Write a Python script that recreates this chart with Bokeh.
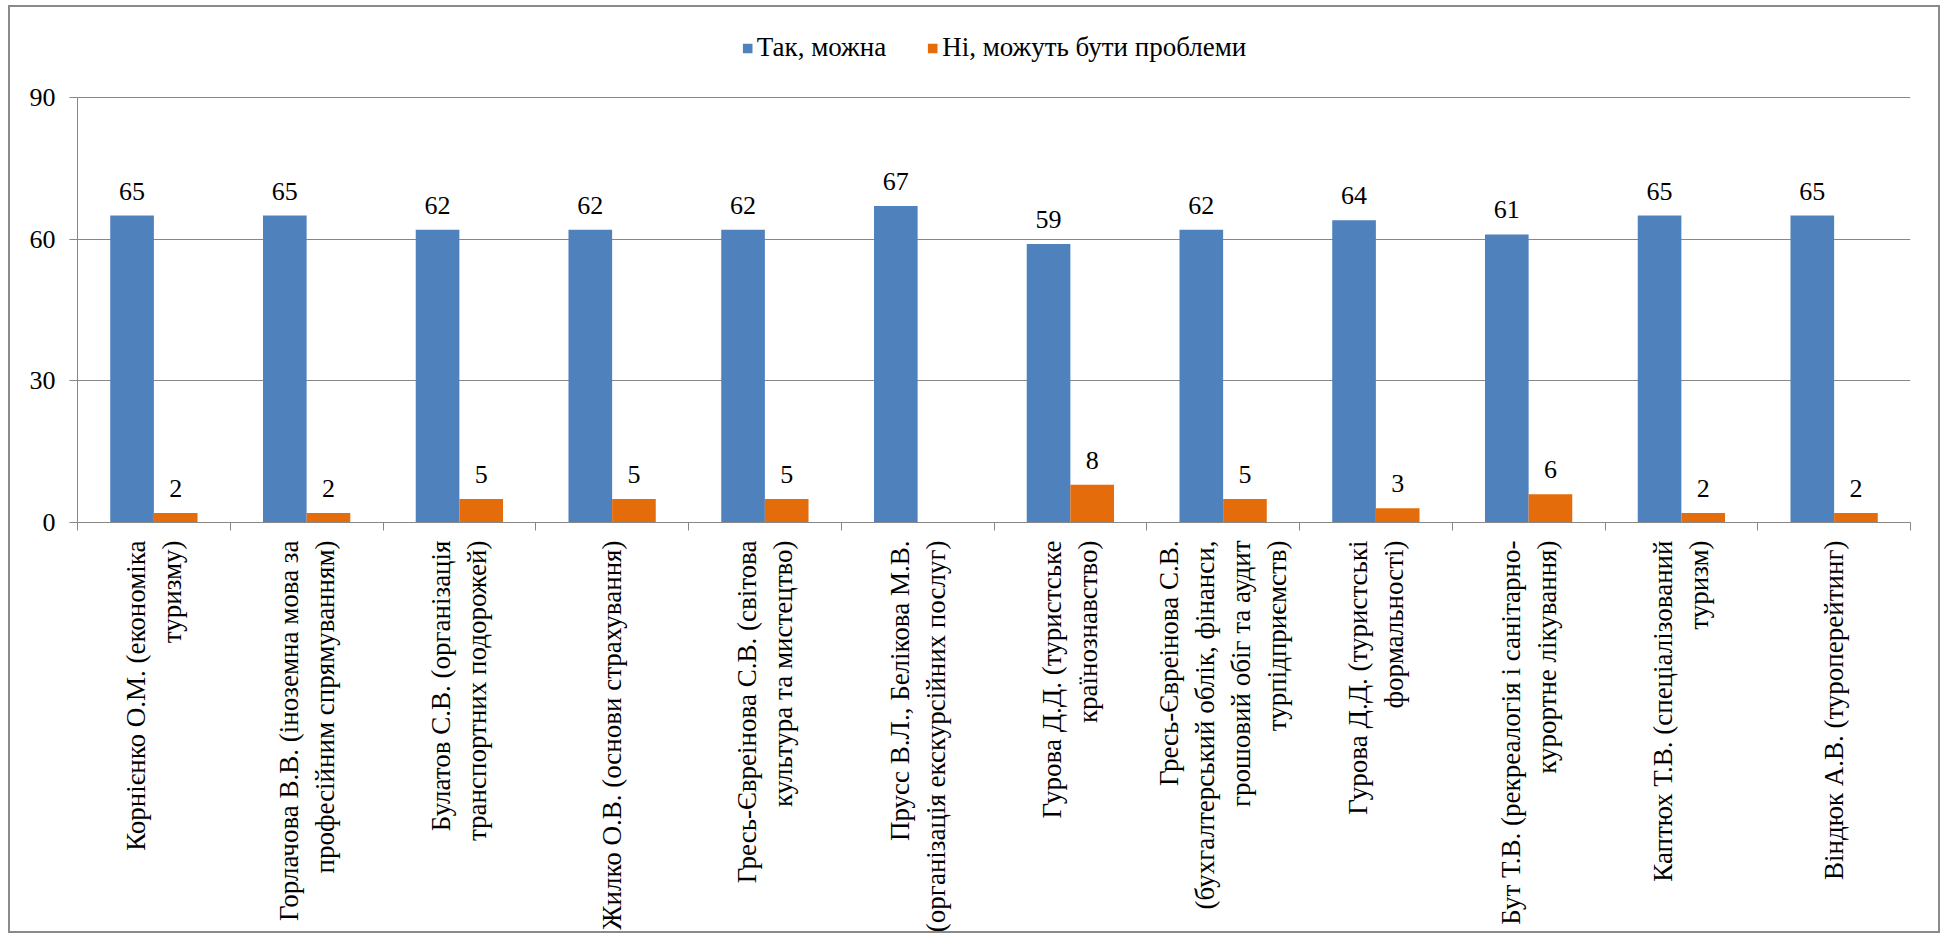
import math
from bokeh.plotting import figure
from bokeh.models import (ColumnDataSource, Range1d, LinearAxis,
                          FixedTicker, LabelSet, Legend, LegendItem)
from bokeh.transform import dodge
from bokeh.embed import file_html
from bokeh.resources import INLINE

categories = [
    "Корнієнко О.М. (економіка\nтуризму)",
    "Горлачова В.В. (іноземна мова за\nпрофесійним спрямуванням)",
    "Булатов С.В. (організація\nтранспортних подорожей)",
    "Жилко О.В. (основи страхування)",
    "Гресь-Євреінова С.В. (світова\nкультура та мистецтво)",
    "Прусс В.Л., Белікова М.В.\n(організація екскурсійних послуг)",
    "Гурова Д.Д. (туристське\nкраїнознавство)",
    "Гресь-Євреінова С.В.\n(бухгалтерський облік, фінанси,\nгрошовий обіг та аудит\nтурпідприємств)",
    "Гурова Д.Д. (туристські\nформальності)",
    "Бут Т.В. (рекреалогія і санітарно-\nкурортне лікування)",
    "Каптюх Т.В. (спеціалізований\nтуризм)",
    "Віндюк А.В. (туроперейтинг)",
]
yes_values = [65, 65, 62, 62, 62, 67, 59, 62, 64, 61, 65, 65]
no_values = [2, 2, 5, 5, 5, None, 8, 5, 3, 6, 2, 2]
series_names = ["Так, можна", "Ні, можуть бути проблеми"]
y_ticks = [0, 30, 60, 90]

FONT = "Liberation Serif"
FS = "26px"
BLUE = "#4F81BD"
ORANGE = "#E46C0A"
GRID = "#878787"

n = len(categories)
centers = [i + 0.5 for i in range(n)]
edges = list(range(n + 1))

src = ColumnDataSource(dict(
    pos=centers,
    yes=yes_values,
    no=[v if v is not None else float("nan") for v in no_values],
    yes_txt=[str(v) for v in yes_values],
    no_txt=[str(v) if v is not None else "" for v in no_values],
))

# frame spans from just below the top border to the zero line; the 0-90 scale takes 425 px
FRAME_H = 505
y_top = max(y_ticks) * FRAME_H / 425.0

p = figure(x_range=Range1d(0, n), y_range=Range1d(0, y_top),
           width=1932, height=928, output_backend="svg", toolbar_location=None,
           x_axis_location=None, min_border_left=67, min_border_right=32,
           min_border_top=10, min_border_bottom=413)
p.outline_line_color = None
p.background_fill_color = "white"
p.border_fill_color = "white"
p.styles = {"border": "2px solid #8a8a8a", "margin-left": "8px", "margin-top": "5px"}

bw = 1 / 3.5
r1 = p.vbar(x=dodge("pos", -bw / 2), top="yes", width=bw, source=src,
            fill_color=BLUE, line_color=None)
r2 = p.vbar(x=dodge("pos", bw / 2), top="no", width=bw, source=src,
            fill_color=ORANGE, line_color=None)

for col, txt, off in (("yes", "yes_txt", -bw / 2), ("no", "no_txt", bw / 2)):
    p.add_layout(LabelSet(x=dodge("pos", off), y=col, text=txt, source=src,
                          y_offset=16, text_align="center", text_baseline="alphabetic",
                          text_font=FONT, text_font_size=FS, text_color="black"))

# y axis
yax = p.yaxis[0]
yax.ticker = FixedTicker(ticks=y_ticks)
yax.bounds = (min(y_ticks), max(y_ticks))
yax.axis_line_color = GRID
yax.major_tick_line_color = GRID
yax.major_tick_in = 0
yax.major_tick_out = 8
yax.minor_tick_line_color = None
yax.major_label_text_font = FONT
yax.major_label_text_font_size = FS
yax.major_label_text_color = "black"
yax.major_label_standoff = 14
p.ygrid.ticker = FixedTicker(ticks=y_ticks)
p.ygrid.grid_line_color = GRID
p.xgrid.visible = False

# category boundary ticks (no labels)
edge_axis = LinearAxis(ticker=FixedTicker(ticks=edges),
                       major_label_overrides={e: "" for e in edges},
                       major_label_text_font_size="1px", major_label_standoff=0,
                       axis_line_color=GRID, major_tick_line_color=GRID,
                       major_tick_in=0, major_tick_out=8, minor_tick_line_color=None)
p.add_layout(edge_axis, "below")

# category labels
cat_axis = LinearAxis(ticker=FixedTicker(ticks=centers),
                      major_label_overrides={c: lab for c, lab in zip(centers, categories)},
                      axis_line_color=None, major_tick_line_color=None, minor_tick_line_color=None,
                      major_label_orientation=math.pi / 2, major_label_standoff=4,
                      major_label_text_font=FONT, major_label_text_font_size="27px",
                      major_label_text_color="black")
p.add_layout(cat_axis, "below")

legend = Legend(items=[LegendItem(label=series_names[0], renderers=[r1]),
                       LegendItem(label=series_names[1], renderers=[r2])],
                orientation="horizontal", location="top_center",
                label_text_font=FONT, label_text_font_size="27px", label_text_color="black",
                glyph_width=12, glyph_height=12, spacing=40, label_standoff=4,
                border_line_color=None, background_fill_alpha=0, padding=0, margin=15)
p.add_layout(legend, "center")

open("out.html", "w").write(file_html(p, INLINE))
